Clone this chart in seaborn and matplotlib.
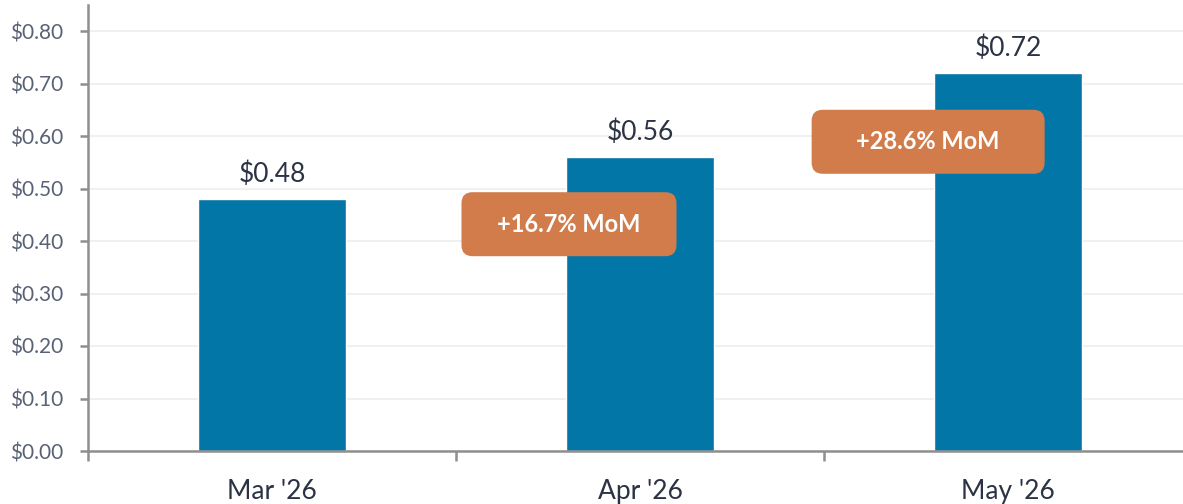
import matplotlib
matplotlib.use("Agg")
import matplotlib.pyplot as plt
from matplotlib.patches import FancyBboxPatch
from matplotlib.ticker import FuncFormatter, FixedLocator
from matplotlib.transforms import ScaledTranslation
import seaborn as sns
import pandas as pd

months = ["Mar '26", "Apr '26", "May '26"]
values = [0.48, 0.56, 0.72]

BAR = "#0376A8"
ORANGE = "#D17C4A"
AX_GRAY = "#8F8F8F"
TICK_TXT = "#596275"
VAL_TXT = "#2B3344"

sns.set_theme(style="white")
plt.rcParams['font.family'] = ['Lato', 'DejaVu Sans']

fig = plt.figure(figsize=(11.83, 5.04), dpi=100)
ax = fig.add_axes([88/1183, 53/504, 1 - 88/1183, 446/504])

df = pd.DataFrame({"month": months, "value": values})
sns.barplot(data=df, x="month", y="value", color=BAR, width=0.4,
            saturation=1, ax=ax, zorder=3)

ax.set_xlim(-0.5, 2.5 - 9/368)
ax.set_ylim(0, 446/525)
ax.set_xlabel("")
ax.set_ylabel("")

yt = [i/10 for i in range(9)]
ax.set_yticks(yt)
ax.yaxis.set_major_formatter(FuncFormatter(lambda v, p: f"${v:.2f}"))
ax.grid(axis="y", color="#EDEDED", linewidth=1.2, zorder=0)
ax.set_axisbelow(True)

for s in ["top", "right"]:
    ax.spines[s].set_visible(False)
for s in ["left", "bottom"]:
    ax.spines[s].set_color(AX_GRAY)
    ax.spines[s].set_linewidth(1.8)
    ax.spines[s].set_zorder(4)

ax.tick_params(axis="y", direction="out", length=6, width=1.8, color=AX_GRAY,
               labelsize=15, labelcolor=TICK_TXT, pad=12, left=True)
ax.xaxis.set_minor_locator(FixedLocator([-0.5, 0.5, 1.5]))
ax.tick_params(axis="x", which="minor", direction="out", length=7, width=1.8,
               color=AX_GRAY, bottom=True)
ax.tick_params(axis="x", which="major", length=0, labelsize=19,
               labelcolor=VAL_TXT, pad=20)

for i, v in enumerate(values):
    ax.text(i, v + 0.022, f"${v:.2f}", ha="center", va="bottom",
            fontsize=19, color=VAL_TXT)

# MoM callouts (sizes in inches at 100 dpi)
box_pos = [(0.807, 0.432), (1.783, 0.589)]
box_w = [2.15, 2.33]
box_h = 0.64
for k in range(1, len(values)):
    pct = (values[k] - values[k-1]) / values[k-1] * 100
    cx, cy = box_pos[k-1]
    w = box_w[k-1]
    trans = fig.dpi_scale_trans + ScaledTranslation(cx, cy, ax.transData)
    patch = FancyBboxPatch((-w/2, -box_h/2), w, box_h,
                           boxstyle="round,pad=0,rounding_size=0.11",
                           transform=trans,
                           facecolor=ORANGE, edgecolor="none", zorder=5)
    ax.add_patch(patch)
    ax.text(cx, cy, f"+{pct:.1f}% MoM", ha="center", va="center",
            fontsize=17, fontweight="bold", color="white", zorder=6)

fig.savefig("out.png", dpi=100)
